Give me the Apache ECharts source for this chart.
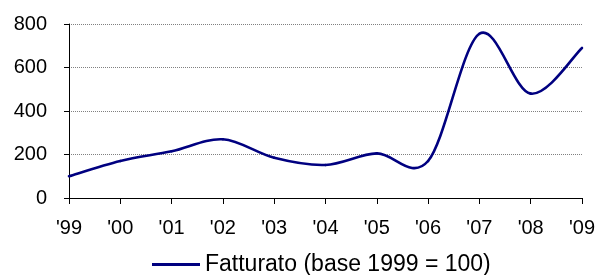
<!DOCTYPE html>
<html>
<head>
<meta charset="utf-8">
<script src="https://cdn.jsdelivr.net/npm/echarts@6/dist/echarts.min.js"></script>
<style>
  html, body { margin: 0; padding: 0; background: #fff; }
  #chart { width: 598px; height: 275px; }
</style>
</head>
<body>
<div id="chart"></div>
<script>
// revenue index, 1999 = 100
const years = ["'99", "'00", "'01", "'02", "'03", "'04", "'05", "'06", "'07", "'08", "'09"];
const fatturato = [100, 170, 215, 270, 185, 152, 205, 170, 755, 480, 690];
const yTicks = { min: 0, max: 800, step: 200 };

const FONT = '"Liberation Sans", Arial, sans-serif';
const NAVY = '#000080';
const NAME = 'Fatturato (base 1999 = 100)';
const chart = echarts.init(document.getElementById('chart'));

// spreadsheet-style smoothing: catmull-rom segment between point i and i+1,
// positions come from the axes via api.coord
function renderSegment(params, api) {
  const i = params.dataIndex, n = fatturato.length;
  if (i >= n - 1) return null;
  const pt = (k) => api.coord([Math.max(0, Math.min(n - 1, k)), fatturato[Math.max(0, Math.min(n - 1, k))]]);
  const p0 = pt(i - 1), p1 = pt(i), p2 = pt(i + 1), p3 = pt(i + 2);
  return {
    type: 'bezierCurve',
    shape: {
      x1: p1[0], y1: p1[1], x2: p2[0], y2: p2[1],
      cpx1: p1[0] + (p2[0] - p0[0]) / 6, cpy1: p1[1] + (p2[1] - p0[1]) / 6,
      cpx2: p2[0] - (p3[0] - p1[0]) / 6, cpy2: p2[1] - (p3[1] - p1[1]) / 6
    },
    style: { stroke: NAVY, lineWidth: 2.6, fill: null, lineCap: 'round' }
  };
}

chart.setOption({
  animation: false,
  textStyle: { fontFamily: FONT, color: '#000' },
  grid: { left: 69, right: 14, top: 24, bottom: 77, containLabel: false },
  xAxis: {
    type: 'category', data: years, boundaryGap: false,
    axisLine: { lineStyle: { color: '#000', width: 1 } },
    axisTick: { show: true, length: 6, interval: 0, lineStyle: { color: '#000' } },
    axisLabel: { interval: 0, fontSize: 20, color: '#000', margin: 20, fontFamily: FONT },
    splitLine: { show: false }
  },
  yAxis: {
    type: 'value', min: yTicks.min, max: yTicks.max, interval: yTicks.step,
    axisLine: { show: true, lineStyle: { color: '#000', width: 1 } },
    axisTick: { show: true, length: 5, lineStyle: { color: '#000' } },
    axisLabel: { fontSize: 20, color: '#000', margin: 22, fontFamily: FONT },
    splitLine: { show: true, lineStyle: { color: '#808080', type: 'dotted', width: 1 } }
  },
  legend: {
    left: 147, top: 248,
    icon: 'rect', itemWidth: 48, itemHeight: 3, itemGap: 8,
    textStyle: { fontSize: 23, color: '#000', fontFamily: FONT },
    data: [{ name: NAME, itemStyle: { color: NAVY } }]
  },
  series: [{
    name: NAME,
    type: 'custom',
    data: fatturato.map((v, i) => [i, v]),
    encode: { x: 0, y: 1 },
    itemStyle: { color: NAVY },
    renderItem: renderSegment
  }]
});
</script>
</body>
</html>
